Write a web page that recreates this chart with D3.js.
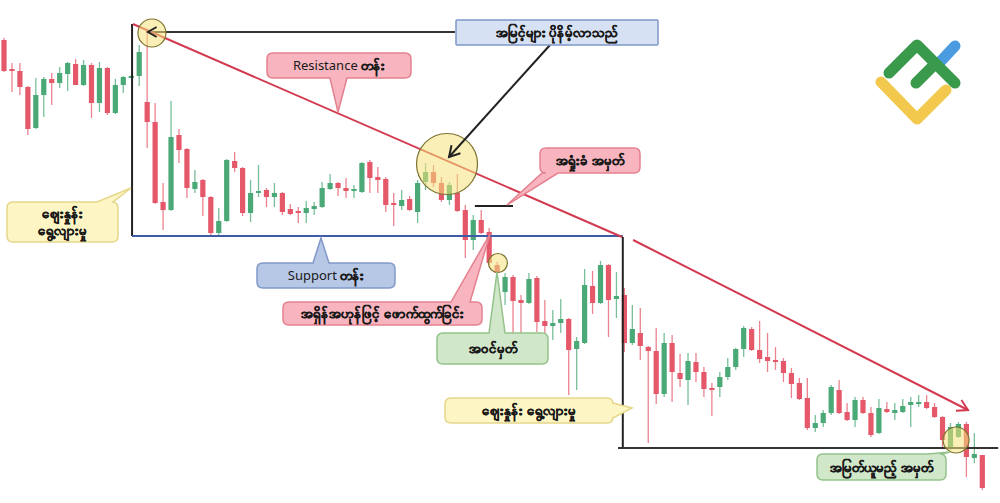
<!DOCTYPE html>
<html><head><meta charset="utf-8">
<script src="https://cdn.jsdelivr.net/npm/d3@7/dist/d3.min.js"></script>
<style>html,body{margin:0;padding:0;background:#fff;}svg{display:block;}</style>
</head><body>
<svg id="chart" width="1000" height="503"></svg>
<script>
// ---- candle data (price units) ----
const open = [460,431,429,413,372,405,421,417,426,436,415,435,397,432,387,415,423,424,398,378,
298,290,365,351,311,320,303,267,279,339,332,287,307,310,303,307,291,289,287,291,
293,311,317,312,309,308,338,323,321,297,294,301,288,318,328,317,300,307,290,260,
280,268,235,208,223,200,197,222,179,174,177,181,151,157,214,197,235,201,205,157,
167,153,149,106,157,127,120,138,128,112,113,123,133,151,171,150,143,140,139,127,
117,102,72,77,87,110,88,80,100,87,67,91,87,88,95,97,98,93,83,53,63,76,42,45];
const high = [462,437,437,414,422,423,427,433,438,441,440,437,438,433,421,424,425,455,470,397,
317,399,371,352,330,321,304,292,341,348,333,320,335,312,317,308,296,293,299,298,
318,326,318,322,315,338,340,333,323,307,310,304,320,337,335,323,318,326,295,285,
290,272,238,227,225,205,227,224,200,190,201,182,163,231,229,239,236,228,212,195,
192,154,172,167,165,146,147,147,133,117,128,142,152,174,173,179,167,153,142,132,
122,122,85,90,115,120,97,103,103,93,101,98,97,101,103,105,105,97,84,77,78,78,67,45];
const low = [428,408,405,365,371,383,395,412,409,415,414,382,388,385,386,407,423,414,352,296,
270,289,337,302,307,284,263,263,278,328,284,278,303,293,293,285,285,277,277,285,
292,310,304,302,302,307,307,307,288,274,290,289,277,310,313,298,295,288,242,250,
266,235,210,195,167,167,196,168,167,160,167,105,110,156,186,196,163,182,148,155,
140,57,96,103,98,113,95,118,103,84,103,120,130,143,149,137,128,130,118,102,
100,70,68,73,85,86,79,73,86,63,66,87,80,87,73,93,91,82,53,50,62,23,37,10];
const close = [429,429,413,371,405,421,417,427,437,415,435,397,432,387,415,423,424,448,378,297,
290,363,350,312,318,303,267,279,340,332,287,307,309,303,307,288,286,287,292,294,
312,317,312,309,311,337,322,320,295,295,300,290,317,328,317,300,315,289,260,280,
267,237,227,223,199,197,221,178,174,177,181,150,159,215,197,235,200,204,157,171,
154,149,106,157,128,121,139,128,111,110,123,133,151,172,150,141,139,139,127,116,
101,72,77,87,113,87,80,100,87,65,92,88,90,94,98,98,92,83,60,73,76,43,46,12];

// ---- annotation levels (index / price units) ----
const resistance1 = [[16.2,476],[77.7,263]];
const resistance2 = [[79.1,260],[121.2,90]];
const supportLine = [[16.1,264],[77.8,264]];
const bottomLine = [[77.2,52],[125,52]];
const leftVertical = [[16.1,476],[16.1,264]];
const rightVertical = [[77.8,263],[77.8,52]];
const highsLine = [[18.1,468],[56.7,468]];
const stopLine = [[59.2,294],[64.0,294]];
const circles = [{i:18.6,p:467,r:14},{i:55.7,p:336,r:30.5},{i:62.1,p:237,r:9.5},{i:119.7,p:60,r:13}];

const svg = d3.select("#chart");
const x = d3.scaleLinear().domain([0,123]).range([4,982.3]);
const y = d3.scaleLinear().domain([0,500]).range([500,0]);

const GREEN = "#4aa977", RED = "#e4586a";
const candles = open.map((o,i)=>({i,o,h:high[i],l:low[i],c:close[i]}));

const gC = svg.append("g");
gC.selectAll("line.w").data(candles).join("line")
  .attr("x1",d=>x(d.i)).attr("x2",d=>x(d.i))
  .attr("y1",d=>y(d.h)).attr("y2",d=>y(d.l))
  .attr("stroke",d=>d.c>=d.o?GREEN:RED).attr("stroke-width",1.3).attr("stroke-opacity",0.75);
gC.selectAll("rect.b").data(candles).join("rect")
  .attr("x",d=>x(d.i)-2.6).attr("width",5.2)
  .attr("y",d=>y(Math.max(d.o,d.c)))
  .attr("height",d=>Math.max(2,Math.abs(y(d.o)-y(d.c))))
  .attr("fill",d=>d.c>=d.o?GREEN:RED);

const line = d3.line().x(d=>x(d[0])).y(d=>y(d[1]));
function drawLine(pts,color,w){ return svg.append("path").attr("d",line(pts)).attr("stroke",color).attr("stroke-width",w).attr("fill","none"); }
function arrowHead(tip,from,len,color,w){
  const dx=from[0]-tip[0], dy=from[1]-tip[1], L=Math.hypot(dx,dy), ux=dx/L, uy=dy/L;
  const a=Math.PI/6;
  const p1=[tip[0]+len*(ux*Math.cos(a)-uy*Math.sin(a)), tip[1]+len*(ux*Math.sin(a)+uy*Math.cos(a))];
  const p2=[tip[0]+len*(ux*Math.cos(-a)-uy*Math.sin(-a)), tip[1]+len*(ux*Math.sin(-a)+uy*Math.cos(-a))];
  svg.append("path").attr("d",`M${p1[0]},${p1[1]}L${tip[0]},${tip[1]}L${p2[0]},${p2[1]}`)
    .attr("stroke",color).attr("stroke-width",w).attr("fill","none");
}
const px = p=>[x(p[0]),y(p[1])];

drawLine(leftVertical,"#222",2);
drawLine(rightVertical,"#222",2);
drawLine(bottomLine,"#333",2);
drawLine(supportLine,"#3f5ba6",2);
drawLine(highsLine,"#333",2);
drawLine(stopLine,"#222",2);
drawLine(resistance1,"#d3394f",2);
drawLine(resistance2,"#d3394f",2);
arrowHead(px(resistance2[1]),px(resistance2[0]),12,"#d3394f",2);

// circles
svg.selectAll("circle.hl").data(circles).join("circle")
  .attr("cx",d=>x(d.i)).attr("cy",d=>y(d.p)).attr("r",d=>d.r)
  .attr("fill","#f5e27a").attr("fill-opacity",0.55).attr("stroke","#7d7330").attr("stroke-width",1.2);
arrowHead(px(highsLine[0]),px(highsLine[1]),10,"#222",2);

// arrow from top box to big circle
const aFrom=[550,45], aTip=[x(circles[1].i)+2, y(circles[1].p)-7];
svg.append("line").attr("x1",aFrom[0]).attr("y1",aFrom[1]).attr("x2",aTip[0]).attr("y2",aTip[1]).attr("stroke","#222").attr("stroke-width",2);
arrowHead(aTip,aFrom,12,"#222",2);

// ---- callouts ----
function callout(o){
  const {x0,y0,x1,y1,r=6,edge,a,b,tip}=o;
  let d=`M${x0+r},${y0}`;
  if(edge==="top") d+=`L${a},${y0}L${tip[0]},${tip[1]}L${b},${y0}`;
  d+=`L${x1-r},${y0}Q${x1},${y0} ${x1},${y0+r}`;
  if(edge==="right") d+=`L${x1},${a}L${tip[0]},${tip[1]}L${x1},${b}`;
  d+=`L${x1},${y1-r}Q${x1},${y1} ${x1-r},${y1}`;
  if(edge==="bottom") d+=`L${b},${y1}L${tip[0]},${tip[1]}L${a},${y1}`;
  d+=`L${x0+r},${y1}Q${x0},${y1} ${x0},${y1-r}L${x0},${y0+r}Q${x0},${y0} ${x0+r},${y0}Z`;
  svg.append("path").attr("d",d).attr("fill",o.fill).attr("stroke",o.stroke).attr("stroke-width",1.5);
  const t=svg.append("text").attr("text-anchor","middle").attr("font-family","'Noto Sans', 'DejaVu Sans', sans-serif")
    .attr("font-size",13).attr("fill","#1a1a1a");
  const cx=(x0+x1)/2;
  o.lines.forEach((ln,k)=>{
    const yy=(y0+y1)/2 + (k-(o.lines.length-1)/2)*17 + 4.5;
    const ts=t.append("tspan").attr("x",cx).attr("y",yy);
    ln.forEach(seg=>{
      const s=ts.append("tspan").attr("font-weight",seg.b?"bold":"normal").text(seg.t);
      if(seg.b) s.attr("stroke","#1a1a1a").attr("stroke-width",0.5);
    });
  });
}
const PINK={fill:"#f8b5bf",stroke:"#e4818f"}, YEL={fill:"#fdf6c4",stroke:"#e5d68a"},
      GRN={fill:"#d0e7ca",stroke:"#93c38b"}, BLU={fill:"#b7c7e6",stroke:"#8199c9"}, LBLU={fill:"#d6e2f4",stroke:"#7f97c8"};

callout({x0:456,y0:20,x1:658,y1:45,r:1,...LBLU,lines:[[{t:"အမြင့်များ ပိုနိမ့်လာသည်",b:1}]]});
callout({x0:267,y0:53,x1:411,y1:78,...PINK,edge:"bottom",a:330,b:347,tip:[338,112],lines:[[{t:"Resistance ",b:0},{t:"တန်း",b:1}]]});
callout({x0:540,y0:148,x1:640,y1:173,...PINK,edge:"bottom",a:542,b:558,tip:[507,205],lines:[[{t:"အရှုံးခံ အမှတ်",b:1}]]});
callout({x0:7,y0:202,x1:118,y1:242,...YEL,edge:"top",a:97,b:113,tip:[131,188],lines:[[{t:"ဈေးနှုန်း",b:1}],[{t:"ရွေ့လျားမှု",b:1}]]});
callout({x0:257,y0:263,x1:395,y1:288,...BLU,edge:"top",a:313,b:329,tip:[321,238],lines:[[{t:"Support ",b:0},{t:"တန်း",b:1}]]});
callout({x0:283,y0:302,x1:482,y1:325,...PINK,edge:"top",a:451,b:470,tip:[490,234],lines:[[{t:"အရှိန်အဟုန်ဖြင့် ဖောက်ထွက်ခြင်း",b:1}]]});
callout({x0:437,y0:333,x1:548,y1:364,...GRN,edge:"top",a:489,b:505,tip:[497,272],lines:[[{t:"အဝင်မှတ်",b:1}]]});
callout({x0:445,y0:398,x1:613,y1:423,...YEL,edge:"right",a:403,b:418,tip:[632,408],lines:[[{t:"ဈေးနှုန်း ရွေ့လျားမှု",b:1}]]});
callout({x0:817,y0:454,x1:946,y1:480,...GRN,edge:"top",a:928,b:942,tip:[950,452],lines:[[{t:"အမြတ်ယူမည့် အမှတ်",b:1}]]});

// ---- logo ----
const lg=svg.append("g").attr("fill","none").attr("stroke-linecap","round").attr("stroke-linejoin","round").attr("stroke-width",11);
lg.append("path").attr("d","M881,82L917,119L946,90").attr("stroke","#f2c94c");
lg.append("path").attr("d","M941,61L955,46").attr("stroke","#4a9be0");
lg.append("path").attr("d","M889,73L917,45L955,83").attr("stroke","#3a9a4c");
lg.append("path").attr("d","M916,83L933,66").attr("stroke","#3a9a4c");
</script>
</body></html>
